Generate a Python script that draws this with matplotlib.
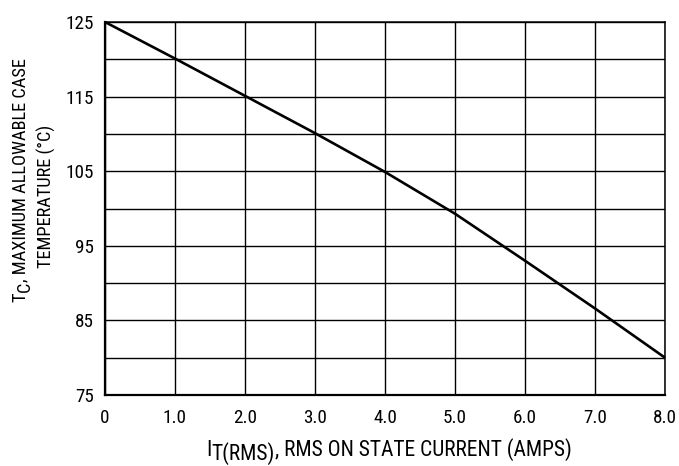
import matplotlib
matplotlib.use("Agg")
import matplotlib.pyplot as plt
from matplotlib import font_manager

# ---- data ----
current_amps = [0, 1, 2, 3, 4, 5, 6, 7, 8]
case_temp_c = [125, 120.1, 115.1, 110.1, 104.9, 99.3, 93.0, 86.6, 80]
x_tick_values = [0, 1, 2, 3, 4, 5, 6, 7, 8]
x_tick_labels = ["0", "1.0", "2.0", "3.0", "4.0", "5.0", "6.0", "7.0", "8.0"]
y_major_ticks = [75, 85, 95, 105, 115, 125]
y_minor_ticks = [80, 90, 100, 110, 120]

names = {f.name for f in font_manager.fontManager.ttflist}
fam = "Roboto Condensed" if "Roboto Condensed" in names else "Liberation Sans"
plt.rcParams["font.family"] = [fam, "DejaVu Sans"]

W, H = 679, 466
fig = plt.figure(figsize=(W / 100, H / 100), dpi=100)
L, R, T, B = 105, 665, 22, 395
ax = fig.add_axes([L / W, 1 - B / H, (R - L) / W, (B - T) / H])

ax.plot(current_amps, case_temp_c, color="black", lw=1.9, solid_capstyle="butt", zorder=3,
        clip_on=False)
ax.set_xlim(0, 8)
ax.set_ylim(75, 125)
ax.set_xticks(x_tick_values)
ax.set_xticklabels(x_tick_labels)
ax.set_yticks(y_major_ticks)
ax.set_yticks(y_minor_ticks, minor=True)
ax.grid(True, which="both", color="black", lw=1.0)
ax.tick_params(which="both", length=0, labelsize=13.8, colors="black")
ax.tick_params(axis="y", pad=8)
ax.tick_params(axis="x", pad=10)
for s in ["left", "bottom"]:
    ax.spines[s].set_linewidth(1.6)
for s in ["right", "top"]:
    ax.spines[s].set_linewidth(1.1)

fsx = 15.5
# x label with subscript
t1 = fig.text(206 / W, 1 - 461 / H, "I", fontsize=fsx, ha="left", va="bottom")
t2 = ax.annotate("T(RMS)", xy=(1, 0), xycoords=t1, xytext=(0, -3), textcoords="offset points",
                 fontsize=fsx, ha="left", va="bottom", annotation_clip=False)
t3 = ax.annotate(", RMS ON STATE CURRENT (AMPS)", xy=(1, 0), xycoords=(t2, t1),
                 fontsize=fsx, ha="left", va="bottom", annotation_clip=False)

# y label with subscript (rotated)
fsy = 13.2
y1 = fig.text(11 / W, 1 - 302 / H, "T", fontsize=fsy, rotation=90, ha="left", va="bottom")
y2 = ax.annotate("C", xy=(0, 1), xycoords=y1, xytext=(3.5, 0), textcoords="offset points",
                 fontsize=fsy, rotation=90, ha="left", va="bottom", annotation_clip=False)
y3 = ax.annotate(", MAXIMUM ALLOWABLE CASE", xy=(0, 1), xycoords=(y1, y2),
                 fontsize=fsy, rotation=90, ha="left", va="bottom", annotation_clip=False)
fig.text(37 / W, 1 - 196 / H, "TEMPERATURE (°C)", fontsize=fsy, rotation=90,
         ha="left", va="center")

fig.savefig("out.png", dpi=100)
